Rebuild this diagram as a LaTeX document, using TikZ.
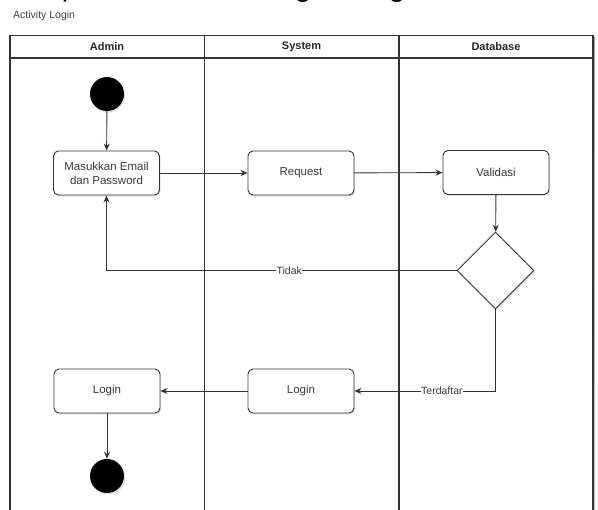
\documentclass[tikz,border=0pt]{standalone}
\usepackage{fontspec}
\setmainfont{Liberation Sans}
\newfontfamily\headfont{Carlito}
\usetikzlibrary{arrows.meta,shapes.geometric,shadows}
\definecolor{ink}{HTML}{333333}
\definecolor{txt}{HTML}{3A3A3A}
\definecolor{shade}{HTML}{9AA0C8}
\tikzset{
  softshadow/.style={drop shadow={opacity=0.3,fill=shade,shadow xshift=1.2pt,shadow yshift=-1.6pt}},
  actbox/.style={draw=ink,line width=0.9pt,rounded corners=5pt,fill=white,
    minimum width=106pt,minimum height=44pt,align=center,text=txt,
    font=\fontsize{11.5}{14}\selectfont,inner sep=2pt,softshadow},
  startdot/.style={circle,fill=black,minimum size=34pt,inner sep=0pt,softshadow},
  decision/.style={diamond,draw=ink,line width=0.9pt,fill=white,
    minimum width=77pt,minimum height=77pt,inner sep=0pt,softshadow},
  flow/.style={draw=ink,line width=0.9pt,-{Stealth[length=7pt,width=6pt]}},
  edgelabel/.style={fill=white,text=txt,font=\fontsize{10.5}{12}\selectfont,
    inner sep=0.6pt},
  lanehead/.style={font=\bfseries\fontsize{11}{13}\selectfont,text=black!85},
  lane/.style={draw=ink,line width=1.1pt},
  headglyph/.style={font=\headfont\fontsize{29}{32}\selectfont,anchor=base,inner sep=0pt},
}
\begin{document}
\begin{tikzpicture}[x=1pt,y=-1pt]
\useasboundingbox (0,0) rectangle (598,510);
\begin{scope}
\clip (0,0) rectangle (598,510);

% descenders of the page heading above
\node[headglyph] (hy) at (67,-2.5) {y};
\node[headglyph] (hg1) at (303,-2.5) {g};
\node[headglyph] (hg2) at (397,-2.5) {g};

% pool title
\node[anchor=west,text=black!75,font=\fontsize{10.5}{12}\selectfont,inner sep=0pt] (pooltitle) at (13,16) {Activity Login};

% swimlanes
\fill[shade,opacity=0.3] (11.5,37) rectangle (594.5,530);
\draw[lane,fill=white] (10,35.5) rectangle (593,530);
\draw[lane] (10,58) -- (593,58);
\draw[lane] (204.5,35.5) -- (204.5,530);
\draw[lane] (399,35.5) -- (399,530);
\node[lanehead] (hadmin) at (107,46.5) {Admin};
\node[lanehead] (hsystem) at (301.5,46.5) {System};
\node[lanehead] (hdb) at (496,46.5) {Database};

% activities
\node[startdot] (start) at (107,94) {};
\node[actbox] (input) at (106.5,173) {Masukkan Email\\dan Password};
\node[actbox] (request) at (301,173) {Request};
\node[actbox] (validasi) at (496,172.5) {Validasi};
\node[decision] (cek) at (495.5,270.5) {};
\node[actbox] (loginsys) at (301,391) {Login};
\node[actbox] (loginadm) at (107,391) {Login};
\node[startdot] (end) at (107,476) {};

% control flow
\draw[flow] (start) -- (input);
\draw[flow] (input) -- (request);
\draw[flow] (request) -- (validasi);
\draw[flow] (validasi) -- (cek);
\draw[flow] (cek.west) -| node[edgelabel,pos=0.239] {Tidak} (input.south);
\draw[flow] (cek.south) |- node[edgelabel,pos=0.69] {Terdaftar} (loginsys.east);
\draw[flow] (loginsys) -- (loginadm);
\draw[flow] (loginadm) -- (end);
\end{scope}
\end{tikzpicture}
\end{document}
